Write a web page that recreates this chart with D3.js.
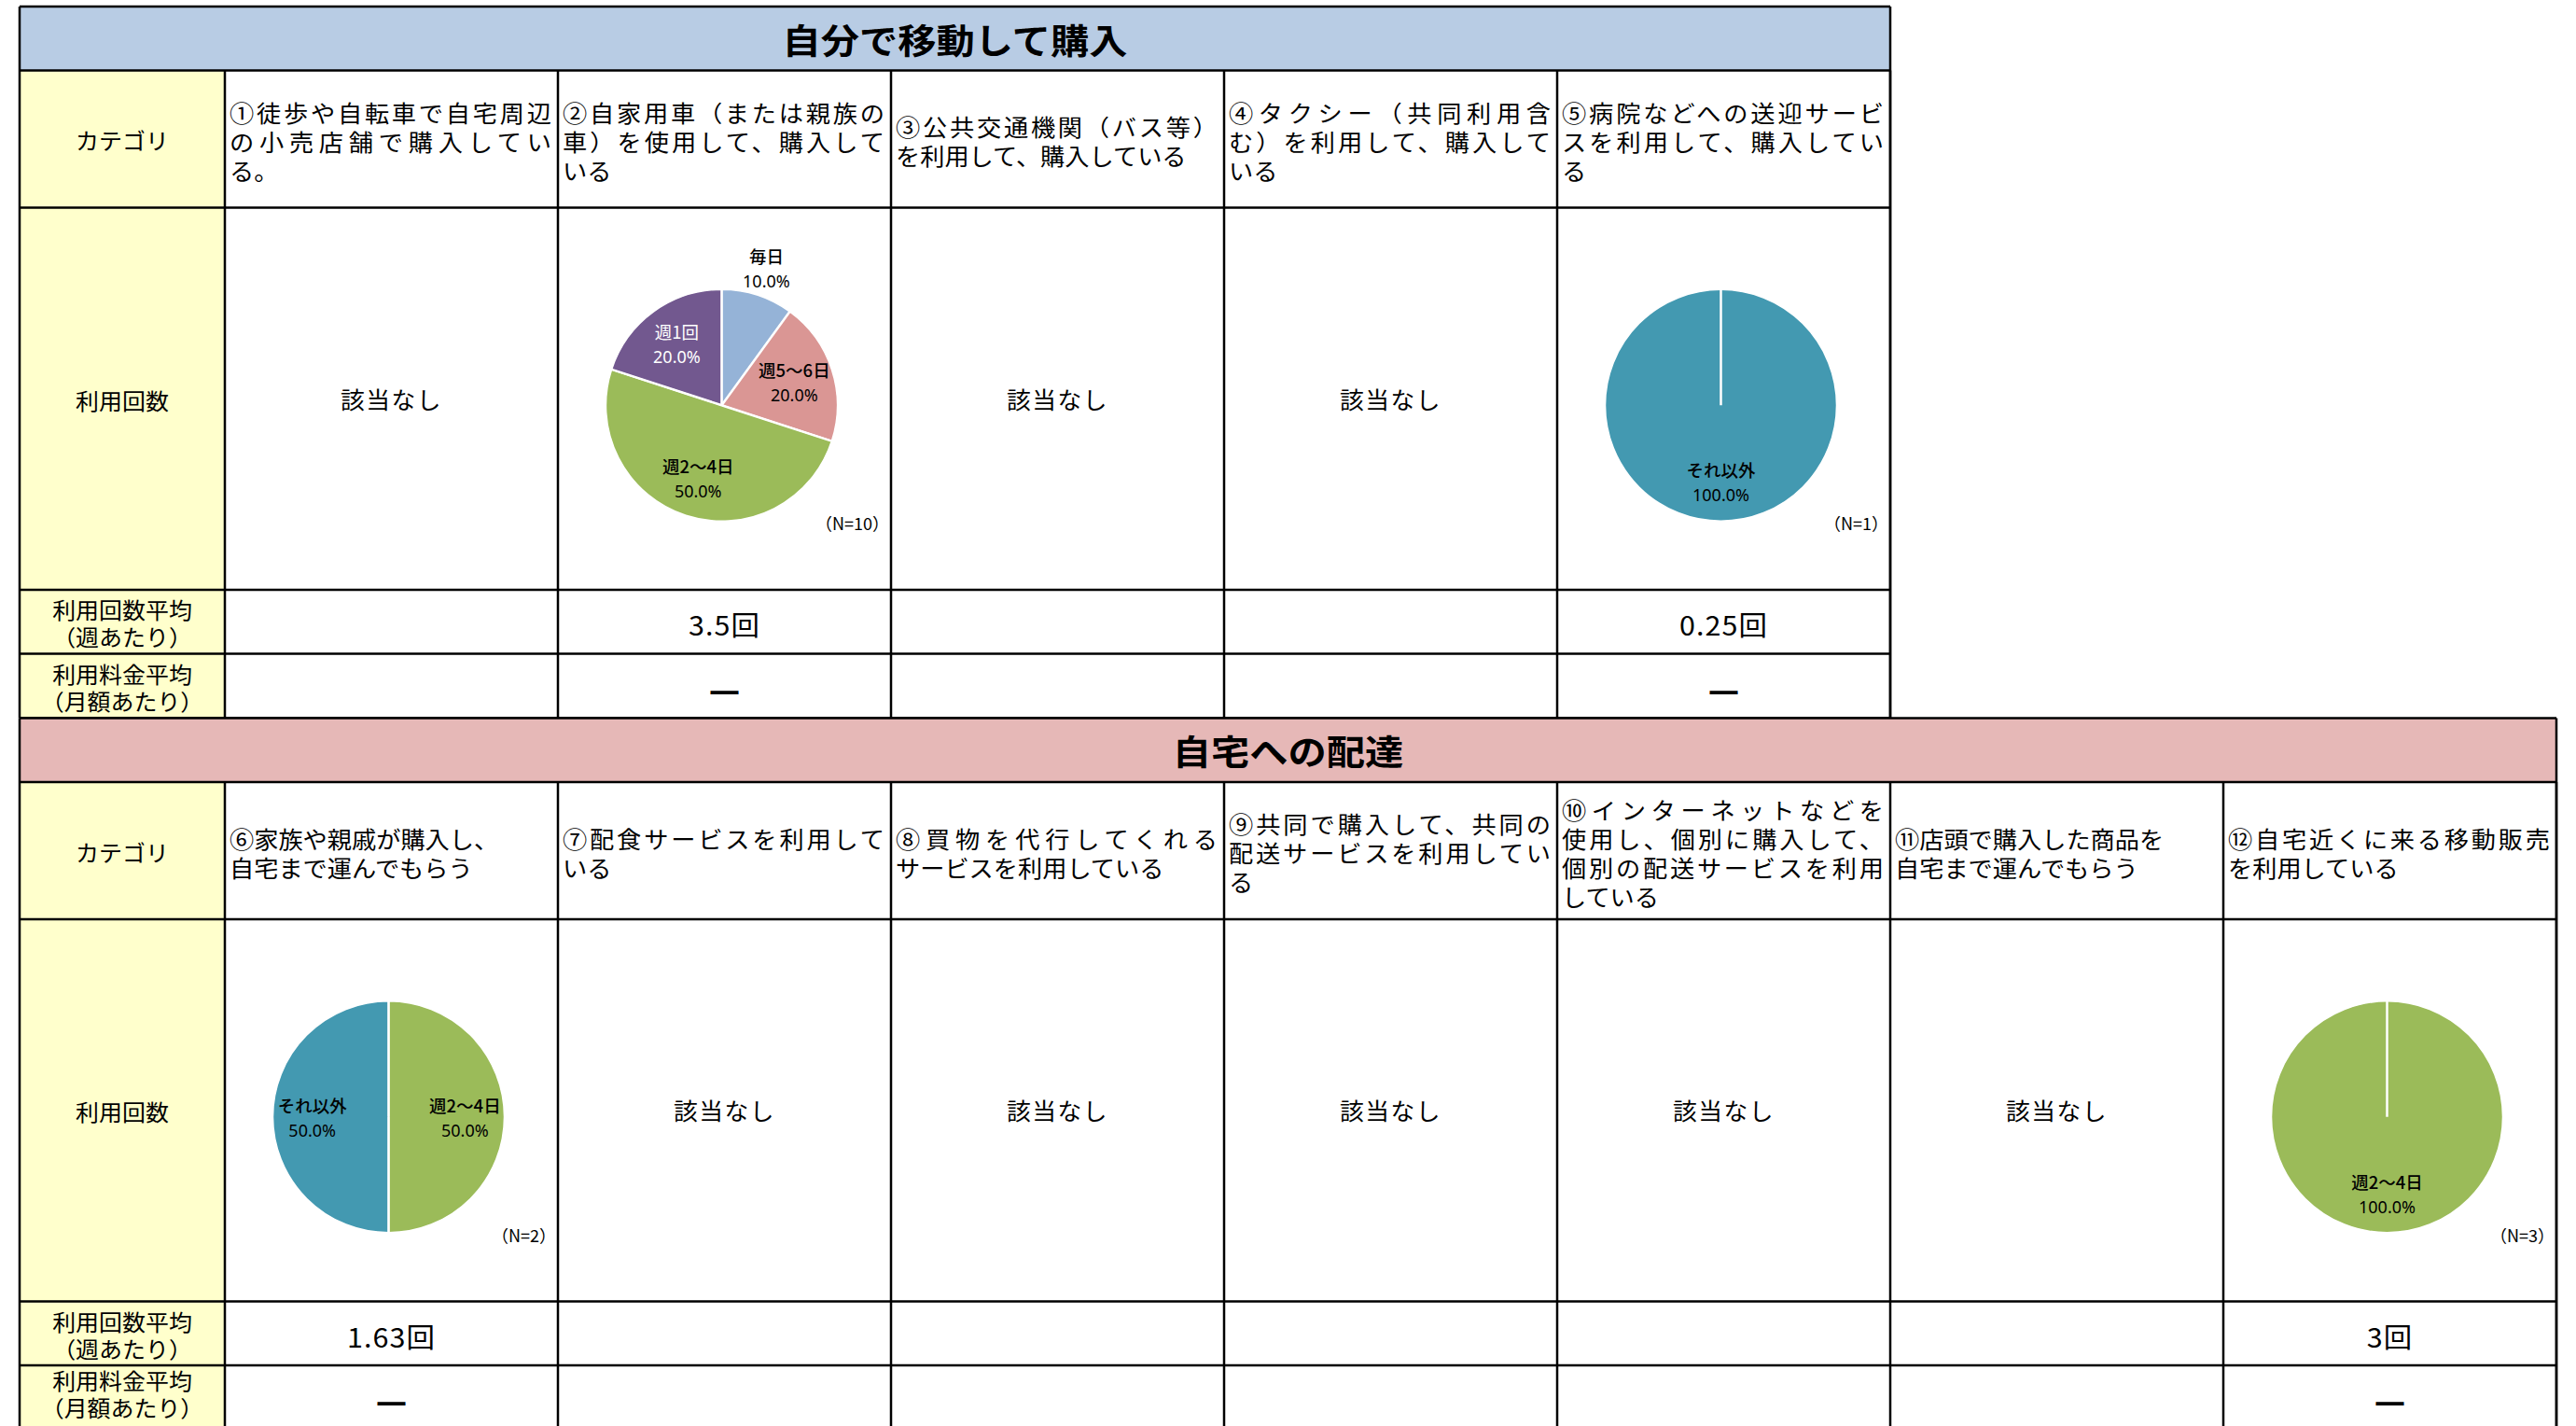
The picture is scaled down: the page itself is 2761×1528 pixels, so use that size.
<!DOCTYPE html>
<html><head><meta charset="utf-8">
<script src="https://cdn.jsdelivr.net/npm/d3@7"></script>
<style>html,body{margin:0;padding:0;background:#fff;} svg{display:block}</style>
</head><body>
<svg id="c" width="2761" height="1528"></svg>
<script>
// ---------------- data ----------------
const sectionTitles = ["自分で移動して購入", "自宅への配達"];
const rowLabels = [["カテゴリ"], ["利用回数"], ["利用回数平均", "（週あたり）"], ["利用料金平均", "（月額あたり）"]];
// each cell: list of paragraphs, each paragraph a list of wrapped lines
const categories1 = [
  [["①徒歩や自転車で自宅周辺", "の小売店舗で購入してい", "る。"]],
  [["②自家用車（または親族の", "車）を使用して、購入して", "いる"]],
  [["③公共交通機関（バス等）", "を利用して、購入している"]],
  [["④タクシー（共同利用含", "む）を利用して、購入して", "いる"]],
  [["⑤病院などへの送迎サービ", "スを利用して、購入してい", "る"]]
];
const categories2 = [
  [["⑥家族や親戚が購入し、"], ["自宅まで運んでもらう"]],
  [["⑦配食サービスを利用して", "いる"]],
  [["⑧買物を代行してくれる", "サービスを利用している"]],
  [["⑨共同で購入して、共同の", "配送サービスを利用してい", "る"]],
  [["⑩インターネットなどを", "使用し、個別に購入して、", "個別の配送サービスを利用", "している"]],
  [["⑪店頭で購入した商品を"], ["自宅まで運んでもらう"]],
  [["⑫自宅近くに来る移動販売", "を利用している"]]
];
const freqCategories = ["毎日", "週5～6日", "週2～4日", "週1回", "それ以外"];
const freqColors = ["#95B3D7", "#DA9694", "#9BBB59", "#72588F", "#4399B1"];
const pieShares1 = [null, [10, 20, 50, 20, 0], null, null, [0, 0, 0, 0, 100]];
const pieShares2 = [[0, 0, 50, 0, 50], null, null, null, null, null, [0, 0, 100, 0, 0]];
const sampleN1 = [null, 10, null, null, 1];
const sampleN2 = [2, null, null, null, null, null, 3];
const avgFreq1 = ["", "3.5回", "", "", "0.25回"];
const avgFreq2 = ["1.63回", "", "", "", "", "", "3回"];
const avgFee1 = ["", "―", "", "", "―"];
const avgFee2 = ["―", "", "", "", "", "", "―"];
const noDataText = "該当なし";

// ---------------- layout ----------------
const W = 2761, H = 1528;
const svg = d3.select("#c");
const X0 = 21, LABEL_W = 220, COL_W = 357;
const ROW_H = [68.5, 147, 409.5, 68.5, 69];
const TABLE_H = d3.sum(ROW_H);
const FONT = "'Noto Sans CJK JP', 'Noto Sans', sans-serif";
const color = d3.scaleOrdinal().domain(freqCategories).range(freqColors);
const R = 124;

function txt(g, x, y, s, o = {}) {
  const sx = o.sx ?? 1.1;
  const t = g.append("text")
    .attr("transform", `translate(${x},${y}) scale(${sx},1)`)
    .attr("text-anchor", o.anchor || "middle")
    .attr("dominant-baseline", "central")
    .attr("font-family", o.family || FONT)
    .attr("font-size", o.size || 24)
    .attr("font-weight", o.weight || 400)
    .attr("fill", o.fill || "#000")
    .text(s);
  if (o.ls) t.attr("letter-spacing", o.ls);
  if (o.width) t.attr("textLength", o.width / sx).attr("lengthAdjust", "spacing");
  return t;
}

const tables = [
  { y0: 7, title: sectionTitles[0], band: "#B8CCE4", cats: categories1, shares: pieShares1, ns: sampleN1, freq: avgFreq1, fee: avgFee1 },
  { y0: 7 + TABLE_H, title: sectionTitles[1], band: "#E6B8B7", cats: categories2, shares: pieShares2, ns: sampleN2, freq: avgFreq2, fee: avgFee2 }
];

const pie = d3.pie().sort(null).value(d => d.value);
const arc = d3.arc().innerRadius(0).outerRadius(R);

tables.forEach(tb => {
  const g = svg.append("g");
  const n = tb.cats.length;
  const x = d3.scaleBand().domain(d3.range(n)).range([X0 + LABEL_W, X0 + LABEL_W + n * COL_W]);
  const right = X0 + LABEL_W + n * COL_W;
  const rowY = [tb.y0];
  ROW_H.forEach(h => rowY.push(rowY[rowY.length - 1] + h));
  const rowC = i => (rowY[i] + rowY[i + 1]) / 2;

  // fills
  g.append("rect").attr("x", X0).attr("y", rowY[0]).attr("width", right - X0).attr("height", ROW_H[0]).attr("fill", tb.band);
  g.append("rect").attr("x", X0).attr("y", rowY[1]).attr("width", LABEL_W).attr("height", rowY[5] - rowY[1]).attr("fill", "#FFFFCC");

  // title
  txt(g, (X0 + right) / 2, rowC(0), tb.title, { size: 37.5, weight: "bold", sx: 1.1 });

  // row labels (kept inside the visible page)
  rowLabels.forEach((lines, i) => {
    const step = 29;
    let cy = rowC(i + 1) + 1;
    const lastY = cy + (lines.length - 1) / 2 * step;
    if (lastY > H - 20) cy -= lastY - (H - 20);
    lines.forEach((l, k) => txt(g, X0 + LABEL_W / 2, cy + (k - (lines.length - 1) / 2) * step, l, { size: 24, sx: 1.04 }));
  });

  // category texts
  tb.cats.forEach((paras, c) => {
    const lines = [];
    paras.forEach(p => p.forEach((l, k) => lines.push({ text: l, justify: k < p.length - 1 })));
    const cy = rowC(1) + 2;
    lines.forEach((ln, k) => {
      txt(g, x(c) + 5, cy + (k - (lines.length - 1) / 2) * 31, ln.text,
        { anchor: "start", size: 24.5, sx: 1.07, width: ln.justify ? COL_W - 12 : null });
    });
  });

  // pies / no data
  tb.shares.forEach((vals, c) => {
    const cx = x(c) + COL_W / 2 - 3;
    if (!vals) {
      txt(g, x(c) + COL_W / 2, rowC(2), noDataText, { size: 24.5, sx: 1.05, ls: 1.5 });
      return;
    }
    const cy = rowC(2) + 7;
    const pg = g.append("g").attr("transform", `translate(${cx},${cy})`);
    const data = freqCategories.map((k, i) => ({ key: k, value: vals[i] })).filter(d => d.value > 0);
    const arcs = pie(data);
    pg.selectAll("path.slice").data(arcs).join("path").attr("class", "slice")
      .attr("d", arc).attr("fill", d => color(d.data.key)).attr("stroke", "#fff").attr("stroke-width", 1.5);
    pg.selectAll("line.sep").data(arcs).join("line").attr("class", "sep")
      .attr("x1", 0).attr("y1", 0)
      .attr("x2", d => R * Math.sin(d.startAngle)).attr("y2", d => -R * Math.cos(d.startAngle))
      .attr("stroke", "#fff").attr("stroke-width", 2.5);
    const total = d3.sum(data, d => d.value);
    arcs.forEach(d => {
      const share = d.data.value / total;
      const rr = share < 0.15 ? R * 1.25 : R * 0.66;
      const [lx, ly] = d3.arc().innerRadius(rr).outerRadius(rr).centroid(d);
      const fill = d3.lab(color(d.data.key)).l < 50 && share >= 0.15 ? "#fff" : "#000";
      txt(pg, lx, ly - 13, d.data.key, { size: 18.5, sx: 1, weight: fill === "#fff" ? 400 : 500, fill });
      txt(pg, lx, ly + 14, d3.format(".1%")(share), { size: 18, sx: 1, fill, family: "'Noto Sans', sans-serif" });
    });
    txt(g, x(c) + COL_W - 2, rowY[3] - 72, `（N=${tb.ns[c]}）`, { anchor: "end", size: 18, sx: 1 });
  });

  // averages
  tb.freq.forEach((s, c) => { if (s) txt(g, x(c) + COL_W / 2, rowC(3) + 3, s, { size: 29, sx: 1.05, ls: 1 }); });
  tb.fee.forEach((s, c) => { if (s) txt(g, x(c) + COL_W / 2, rowC(4) + 4, s, { size: 30, sx: 1, weight: "bold", family: "'DejaVu Sans', sans-serif" }); });

  // borders
  const bg = g.append("g").attr("stroke", "#000").attr("stroke-width", 2.5).attr("fill", "none");
  rowY.forEach(y => bg.append("line").attr("x1", X0).attr("x2", right).attr("y1", y).attr("y2", y));
  bg.append("line").attr("x1", X0).attr("x2", X0).attr("y1", rowY[0]).attr("y2", rowY[5]);
  bg.append("line").attr("x1", right).attr("x2", right).attr("y1", rowY[0]).attr("y2", rowY[5]);
  [X0 + LABEL_W, ...d3.range(n).map(c => x(c) + COL_W)].forEach(xx =>
    bg.append("line").attr("x1", xx).attr("x2", xx).attr("y1", rowY[1]).attr("y2", rowY[5]));
});
</script>
</body></html>
